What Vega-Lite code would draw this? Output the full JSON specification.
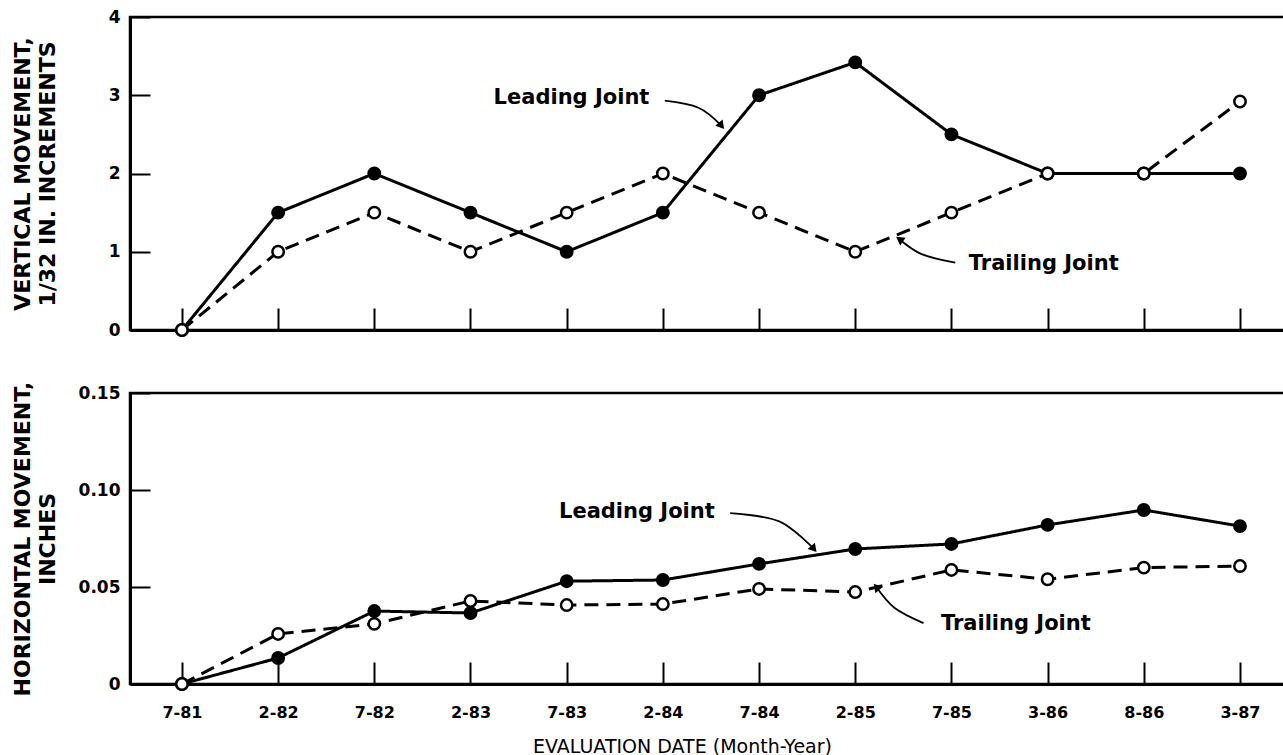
{
  "$schema": "https://vega.github.io/schema/vega-lite/v6.json",
  "background": "white",
  "padding": {"left": 9, "top": 6, "right": 0, "bottom": 0},
  "spacing": 63,
  "bounds": "flush",
  "config": {
    "font": "DejaVu Sans",
    "view": {"stroke": "black", "strokeWidth": 2.5},
    "axis": {
      "labelFont": "DejaVu Sans",
      "titleFont": "DejaVu Sans",
      "labelColor": "black",
      "titleColor": "black",
      "labelFontWeight": "bold",
      "titleFontWeight": "bold",
      "domainColor": "black",
      "domainWidth": 3,
      "tickColor": "black",
      "tickWidth": 2,
      "grid": false
    }
  },
  "datasets": {
    "vert": [
      {"i": 0, "date": "7-81", "joint": "Leading Joint", "value": 0},
      {"i": 1, "date": "2-82", "joint": "Leading Joint", "value": 1.5},
      {"i": 2, "date": "7-82", "joint": "Leading Joint", "value": 2},
      {"i": 3, "date": "2-83", "joint": "Leading Joint", "value": 1.5},
      {"i": 4, "date": "7-83", "joint": "Leading Joint", "value": 1},
      {"i": 5, "date": "2-84", "joint": "Leading Joint", "value": 1.5},
      {"i": 6, "date": "7-84", "joint": "Leading Joint", "value": 3},
      {"i": 7, "date": "2-85", "joint": "Leading Joint", "value": 3.42},
      {"i": 8, "date": "7-85", "joint": "Leading Joint", "value": 2.5},
      {"i": 9, "date": "3-86", "joint": "Leading Joint", "value": 2},
      {"i": 10, "date": "8-86", "joint": "Leading Joint", "value": 2},
      {"i": 11, "date": "3-87", "joint": "Leading Joint", "value": 2},
      {"i": 0, "date": "7-81", "joint": "Trailing Joint", "value": 0},
      {"i": 1, "date": "2-82", "joint": "Trailing Joint", "value": 1},
      {"i": 2, "date": "7-82", "joint": "Trailing Joint", "value": 1.5},
      {"i": 3, "date": "2-83", "joint": "Trailing Joint", "value": 1},
      {"i": 4, "date": "7-83", "joint": "Trailing Joint", "value": 1.5},
      {"i": 5, "date": "2-84", "joint": "Trailing Joint", "value": 2},
      {"i": 6, "date": "7-84", "joint": "Trailing Joint", "value": 1.5},
      {"i": 7, "date": "2-85", "joint": "Trailing Joint", "value": 1},
      {"i": 8, "date": "7-85", "joint": "Trailing Joint", "value": 1.5},
      {"i": 9, "date": "3-86", "joint": "Trailing Joint", "value": 2},
      {"i": 10, "date": "8-86", "joint": "Trailing Joint", "value": 2},
      {"i": 11, "date": "3-87", "joint": "Trailing Joint", "value": 2.92}
    ],
    "horiz": [
      {"i": 0, "date": "7-81", "joint": "Leading Joint", "value": 0},
      {"i": 1, "date": "2-82", "joint": "Leading Joint", "value": 0.0134},
      {"i": 2, "date": "7-82", "joint": "Leading Joint", "value": 0.0376},
      {"i": 3, "date": "2-83", "joint": "Leading Joint", "value": 0.0366},
      {"i": 4, "date": "7-83", "joint": "Leading Joint", "value": 0.053},
      {"i": 5, "date": "2-84", "joint": "Leading Joint", "value": 0.0536},
      {"i": 6, "date": "7-84", "joint": "Leading Joint", "value": 0.0619},
      {"i": 7, "date": "2-85", "joint": "Leading Joint", "value": 0.0696},
      {"i": 8, "date": "7-85", "joint": "Leading Joint", "value": 0.0722},
      {"i": 9, "date": "3-86", "joint": "Leading Joint", "value": 0.082},
      {"i": 10, "date": "8-86", "joint": "Leading Joint", "value": 0.0897},
      {"i": 11, "date": "3-87", "joint": "Leading Joint", "value": 0.0814},
      {"i": 0, "date": "7-81", "joint": "Trailing Joint", "value": 0},
      {"i": 1, "date": "2-82", "joint": "Trailing Joint", "value": 0.0258},
      {"i": 2, "date": "7-82", "joint": "Trailing Joint", "value": 0.031},
      {"i": 3, "date": "2-83", "joint": "Trailing Joint", "value": 0.0428},
      {"i": 4, "date": "7-83", "joint": "Trailing Joint", "value": 0.0407},
      {"i": 5, "date": "2-84", "joint": "Trailing Joint", "value": 0.0412},
      {"i": 6, "date": "7-84", "joint": "Trailing Joint", "value": 0.049},
      {"i": 7, "date": "2-85", "joint": "Trailing Joint", "value": 0.0474},
      {"i": 8, "date": "7-85", "joint": "Trailing Joint", "value": 0.0588},
      {"i": 9, "date": "3-86", "joint": "Trailing Joint", "value": 0.054},
      {"i": 10, "date": "8-86", "joint": "Trailing Joint", "value": 0.06},
      {"i": 11, "date": "3-87", "joint": "Trailing Joint", "value": 0.0608}
    ],
    "vertLabels": [
      {"label": "Leading Joint", "i": 4.05, "value": 2.96},
      {"label": "Trailing Joint", "i": 8.96, "value": 0.84}
    ],
    "horizLabels": [
      {"label": "Leading Joint", "i": 4.73, "value": 0.0887},
      {"label": "Trailing Joint", "i": 8.67, "value": 0.0309}
    ],
    "vertArrows": [
      {"arrow": "lead", "o": 0, "i": 5.02, "value": 2.93},
      {"arrow": "lead", "o": 1, "i": 5.37, "value": 2.84},
      {"arrow": "lead", "o": 2, "i": 5.61, "value": 2.61},
      {"arrow": "trail", "o": 0, "i": 8.04, "value": 0.86},
      {"arrow": "trail", "o": 1, "i": 7.69, "value": 0.97},
      {"arrow": "trail", "o": 2, "i": 7.46, "value": 1.16}
    ],
    "horizArrows": [
      {"arrow": "lead", "o": 0, "i": 5.7, "value": 0.0881},
      {"arrow": "lead", "o": 1, "i": 6.21, "value": 0.0838},
      {"arrow": "lead", "o": 2, "i": 6.57, "value": 0.0696},
      {"arrow": "trail", "o": 0, "i": 7.71, "value": 0.0314},
      {"arrow": "trail", "o": 1, "i": 7.41, "value": 0.0392},
      {"arrow": "trail", "o": 2, "i": 7.22, "value": 0.05}
    ]
  },
  "vconcat": [
    {
      "width": 1160,
      "height": 313,
      "encoding": {
        "x": {
          "field": "i", "type": "quantitative",
          "scale": {"domain": [-0.54, 11.52], "nice": false, "zero": false},
          "axis": {"values": [0,1,2,3,4,5,6,7,8,9,10,11], "labels": false, "title": null, "tickSize": -22}
        },
        "y": {
          "field": "value", "type": "quantitative",
          "scale": {"domain": [0, 4], "nice": false},
          "axis": {
            "values": [0,1,2,3,4], "tickSize": -20, "labelPadding": 30, "labelFontSize": 17,
            "title": ["VERTICAL MOVEMENT,", "1/32 IN. INCREMENTS"],
            "titleFontSize": 22, "titleLineHeight": 25, "titlePadding": 21,
            "minExtent": 50, "maxExtent": 50
          }
        }
      },
      "layer": [
        {
          "data": {"name": "vert"},
          "mark": {"type": "line", "color": "black", "strokeWidth": 3},
          "encoding": {
            "detail": {"field": "joint"},
            "strokeDash": {"field": "joint", "type": "nominal", "scale": {"domain": ["Leading Joint", "Trailing Joint"], "range": [[1, 0], [14, 8]]}, "legend": null}
          }
        },
        {
          "data": {"name": "vert"},
          "mark": {"type": "point", "filled": true, "size": 130, "stroke": "black", "strokeWidth": 2.5, "opacity": 1},
          "encoding": {
            "fill": {"field": "joint", "type": "nominal", "scale": {"domain": ["Leading Joint", "Trailing Joint"], "range": ["black", "white"]}, "legend": null}
          }
        },
        {
          "data": {"name": "vertLabels"},
          "mark": {"type": "text", "fontSize": 21, "fontWeight": "bold", "align": "center", "baseline": "middle", "color": "black"},
          "encoding": {"text": {"field": "label"}}
        },
        {
          "data": {"name": "vertArrows"},
          "mark": {"type": "line", "color": "black", "strokeWidth": 1.8, "interpolate": "cardinal"},
          "encoding": {"detail": {"field": "arrow"}, "order": {"field": "o"}}
        },
        {
          "data": {"name": "vertArrows"},
          "transform": [{"filter": "datum.arrow == 'lead' && datum.o == 2"}],
          "mark": {"type": "point", "shape": "triangle-up", "angle": 140, "filled": true, "color": "black", "size": 90, "opacity": 1}
        },
        {
          "data": {"name": "vertArrows"},
          "transform": [{"filter": "datum.arrow == 'trail' && datum.o == 2"}],
          "mark": {"type": "point", "shape": "triangle-up", "angle": 305, "filled": true, "color": "black", "size": 90, "opacity": 1}
        }
      ]
    },
    {
      "width": 1160,
      "height": 291,
      "encoding": {
        "x": {
          "field": "i", "type": "quantitative",
          "scale": {"domain": [-0.54, 11.52], "nice": false, "zero": false},
          "axis": {
            "values": [0,1,2,3,4,5,6,7,8,9,10,11], "tickSize": -22,
            "labelExpr": "['7-81','2-82','7-82','2-83','7-83','2-84','7-84','2-85','7-85','3-86','8-86','3-87'][datum.value]",
            "labelFontSize": 16, "labelPadding": 42,
            "title": "EVALUATION DATE (Month-Year)", "titleFontSize": 19, "titleFontWeight": "normal",
            "titleX": 552, "titleY": 62, "titleBaseline": "middle"
          }
        },
        "y": {
          "field": "value", "type": "quantitative",
          "scale": {"domain": [0, 0.15], "nice": false},
          "axis": {
            "values": [0, 0.05, 0.1, 0.15], "tickSize": -20, "labelPadding": 30, "labelFontSize": 17,
            "labelExpr": "datum.value == 0 ? '0' : format(datum.value, '.2f')",
            "title": ["HORIZONTAL MOVEMENT,", "INCHES"],
            "titleFontSize": 22, "titleLineHeight": 25, "titlePadding": 21,
            "minExtent": 50, "maxExtent": 50
          }
        }
      },
      "layer": [
        {
          "data": {"name": "horiz"},
          "mark": {"type": "line", "color": "black", "strokeWidth": 3},
          "encoding": {
            "detail": {"field": "joint"},
            "strokeDash": {"field": "joint", "type": "nominal", "scale": {"domain": ["Leading Joint", "Trailing Joint"], "range": [[1, 0], [14, 8]]}, "legend": null}
          }
        },
        {
          "data": {"name": "horiz"},
          "mark": {"type": "point", "filled": true, "size": 130, "stroke": "black", "strokeWidth": 2.5, "opacity": 1},
          "encoding": {
            "fill": {"field": "joint", "type": "nominal", "scale": {"domain": ["Leading Joint", "Trailing Joint"], "range": ["black", "white"]}, "legend": null}
          }
        },
        {
          "data": {"name": "horizLabels"},
          "mark": {"type": "text", "fontSize": 21, "fontWeight": "bold", "align": "center", "baseline": "middle", "color": "black"},
          "encoding": {"text": {"field": "label"}}
        },
        {
          "data": {"name": "horizArrows"},
          "mark": {"type": "line", "color": "black", "strokeWidth": 1.8, "interpolate": "cardinal"},
          "encoding": {"detail": {"field": "arrow"}, "order": {"field": "o"}}
        },
        {
          "data": {"name": "horizArrows"},
          "transform": [{"filter": "datum.arrow == 'lead' && datum.o == 2"}],
          "mark": {"type": "point", "shape": "triangle-up", "angle": 140, "filled": true, "color": "black", "size": 90, "opacity": 1}
        },
        {
          "data": {"name": "horizArrows"},
          "transform": [{"filter": "datum.arrow == 'trail' && datum.o == 2"}],
          "mark": {"type": "point", "shape": "triangle-up", "angle": 320, "filled": true, "color": "black", "size": 90, "opacity": 1}
        }
      ]
    }
  ]
}
